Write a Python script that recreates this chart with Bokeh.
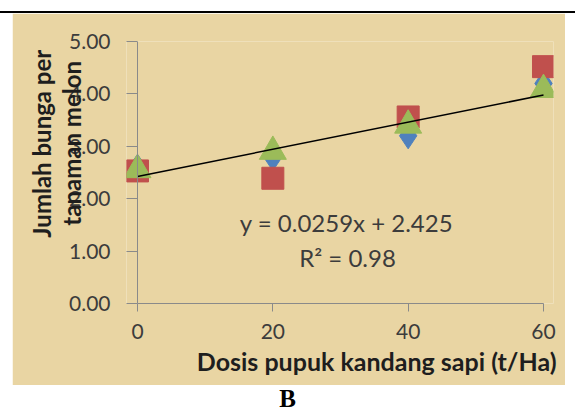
from bokeh.plotting import figure
from bokeh.models import (FixedTicker, Label, Range1d, Span, Title, LinearAxis,
                          Div, Spacer)
from bokeh.layouts import column, row
from bokeh.embed import file_html
from bokeh.resources import INLINE

# ---- data ----
dose = [0, 20, 40, 60]
series_blue = [2.60, 2.78, 3.20, 4.20]
series_red = [2.53, 2.39, 3.56, 4.52]
series_green = [2.55, 2.90, 3.40, 4.08]
trend_slope = 0.0259
trend_intercept = 2.425
trend_x = [0, 60]
x_ticks = [0, 20, 40, 60]
y_ticks = [0, 1, 2, 3, 4, 5]
y_tick_labels = ["0.00", "1.00", "2.00", "3.00", "4.00", "5.00"]
equation_text = "y = 0.0259x + 2.425"
r2_text = "R² = 0.98"
x_title = "Dosis pupuk kandang sapi (t/Ha)"
y_title_lines = ["Jumlah bunga per", "tanaman melon"]
panel_letter = "B"

FONT = "Lato"
TEXT_COLOR = "#3c3c3c"
TITLE_COLOR = "#1e1e1e"
AXIS_COLOR = "#8a8a8a"
PAPYRUS = "#E9D5A3"

p = figure(width=553, height=372, output_backend="svg", toolbar_location=None,
           x_range=Range1d(-1.626, 61.478), y_range=Range1d(0, 5),
           min_border_left=114, min_border_right=12, min_border_top=28,
           min_border_bottom=82)
p.margin = (0, 0, 0, 0)
p.background_fill_color = PAPYRUS
p.border_fill_color = PAPYRUS
p.outline_line_color = None
p.grid.visible = False

# axes
for ax in (p.xaxis[0], p.yaxis[0]):
    ax.axis_line_color = AXIS_COLOR
    ax.major_tick_line_color = AXIS_COLOR
    ax.minor_tick_line_color = None
    ax.major_label_text_font = FONT
    ax.major_label_text_font_size = "21px"
    ax.major_label_text_color = TEXT_COLOR

p.xaxis.ticker = FixedTicker(ticks=x_ticks)
p.xaxis.bounds = (0, 60)
p.xaxis.major_tick_in = 0
p.xaxis.major_tick_out = 8
p.xaxis.major_label_standoff = 12

p.yaxis.ticker = FixedTicker(ticks=y_ticks)
p.yaxis.major_label_overrides = {t: s for t, s in zip(y_ticks, y_tick_labels)}
p.yaxis.axis_line_color = None
p.yaxis.major_tick_in = 11
p.yaxis.major_tick_out = 0
p.yaxis.major_label_standoff = 16

# vertical axis line at x = 0
p.add_layout(Span(location=0, dimension="height", line_color=AXIS_COLOR, line_width=1))

# y-axis title carried by a tick-less axis on the left; the label sits
# above the frame centre in the original, so pad the start of each line
pad = "\u00a0" * 10
y_title = "\n".join(pad + line for line in y_title_lines)
title_axis = LinearAxis(ticker=FixedTicker(ticks=[]),
                        axis_line_color=None, major_tick_line_color=None,
                        minor_tick_line_color=None, major_label_text_font_size="0px",
                        axis_label=y_title, axis_label_standoff=-19,
                        axis_label_text_font=FONT, axis_label_text_font_size="24px",
                        axis_label_text_font_style="bold",
                        axis_label_text_color=TITLE_COLOR,
                        axis_label_text_line_height=1.02)
p.add_layout(title_axis, "left")

# x-axis title
p.add_layout(Title(text=x_title, align="right", text_font=FONT, text_font_size="25px",
                   text_font_style="bold", text_color=TITLE_COLOR, offset=-3,
                   standoff=4), "below")

# markers
p.scatter(dose, series_blue, marker="diamond", size=26, color="#4F81BD")
p.scatter(dose, series_red, marker="square", size=22, color="#C0504D")
p.scatter(dose, series_green, marker="triangle", size=27, color="#9BBB59")

# trend line
trend_y = [trend_intercept + trend_slope * x for x in trend_x]
p.line(trend_x, trend_y, line_color="black", line_width=1.5)

for txt, cx, cy in ((equation_text, 334, 209), (r2_text, 335, 244)):
    p.add_layout(Label(x=cx, y=cy, x_units="canvas", y_units="canvas", text=txt,
                       text_font=FONT, text_font_size="24px", text_color=TEXT_COLOR,
                       text_align="center", text_baseline="middle"))

rule = Div(text="", width=575, height=13, margin=(0, 0, 0, 0),
           styles={"background": "linear-gradient(to bottom, #ffffff 0px, #ffffff 11px, #000000 11px, #000000 13px)"})
letter = Div(text=('<div style="width:575px;text-align:center;font-family:\'Liberation Serif\';'
                   'font-weight:bold;font-size:25px;line-height:28px;color:#000">'
                   + panel_letter + '</div>'),
             width=575, height=28, margin=(0, 0, 0, 0))
layout = column(rule,
                row(Spacer(width=12, height=372, margin=(0, 0, 0, 0)), p,
                    Spacer(width=10, height=372, margin=(0, 0, 0, 0))),
                letter)

open("out.html", "w").write(file_html(layout, INLINE))
